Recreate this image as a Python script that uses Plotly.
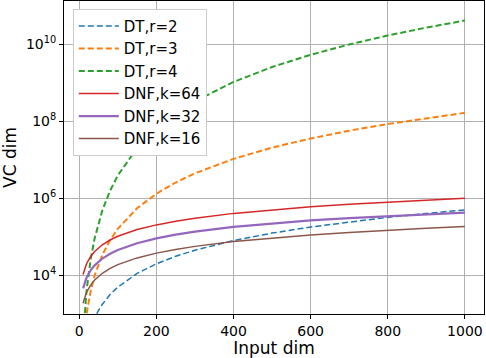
import plotly.graph_objects as go

# input dimension
n = [10, 12, 14, 16, 18, 20, 25, 30, 40, 50, 60, 80, 100, 150, 200, 250,
     300, 400, 500, 600, 700, 800, 900, 1000]

# decision trees, depth r
dt_r2 = [45, 66, 91, 120, 153, 190, 300, 435, 780, 1225, 1770, 3160, 4950,
         11175, 19900, 31125, 44850, 79800, 124750, 179700, 244650, 319600,
         404550, 499500]
dt_r3 = [120, 220, 364, 560, 816, 1140, 2300, 4060, 9880, 19600, 34220,
         82160, 161700, 551300, 1313400, 2573000, 4455100, 10586800,
         20708500, 35820200, 56921900, 85013600, 121095300, 166167000]
dt_r4 = [210, 495, 1001, 1820, 3060, 4845, 12650, 27405, 91390, 230300,
         487635, 1581580, 3921225, 20260275, 64684950, 158882750, 330791175,
         1050739900, 2573031125, 5346164850, 9918641075, 16938959800,
         27155621025, 41417124750]

# DNF with k terms
dnf_k64 = [10500, 12600, 14600, 16700, 18800, 20900, 26000, 31200, 41500,
           51800, 62100, 82500, 103000, 154000, 204000, 255000, 305000,
           406000, 506000, 606000, 706000, 806000, 905000, 1005000]
dnf_k32 = [4600, 5500, 6400, 7300, 8200, 9100, 11400, 13700, 18200, 22800,
           27300, 36400, 45500, 68200, 91000, 113500, 136000, 181000, 224000,
           268000, 305000, 345000, 385000, 425000]
dnf_k16 = [1880, 2260, 2640, 3020, 3400, 3780, 4720, 5660, 7550, 9440, 11300,
           15100, 18900, 28300, 37700, 47000, 56400, 75000, 93600, 112000,
           130000, 148500, 166500, 184000]

y_ticks = [1e4, 1e6, 1e8, 1e10]
y_ticktext = ["10<sup>4</sup>", "10<sup>6</sup>", "10<sup>8</sup>", "10<sup>10</sup>"]
x_ticks = [0, 200, 400, 600, 800, 1000]

series = [
    ("DT,r=2", dt_r2, "#1f77b4", 1.5, "6px,3px"),
    ("DT,r=3", dt_r3, "#ff7f0e", 2, "6px,3px"),
    ("DT,r=4", dt_r4, "#2ca02c", 2, "6px,3px"),
    ("DNF,k=64", dnf_k64, "#d62728", 1.5, "solid"),
    ("DNF,k=32", dnf_k32, "#9467bd", 2.2, "solid"),
    ("DNF,k=16", dnf_k16, "#8c564b", 1.5, "solid"),
]

fig = go.Figure()
for name, vals, col, w, dash in series:
    fig.add_trace(go.Scatter(x=n, y=vals, mode="lines", name=name,
                             line=dict(color=col, width=w, dash=dash)))

axis_common = dict(
    showline=True, mirror=True, linecolor="black", linewidth=1,
    ticks="outside", ticklen=4, tickcolor="black",
    showgrid=True, gridcolor="#b0b0b0", gridwidth=1, zeroline=False,
    tickfont=dict(size=14, color="black"),
)

fig.update_layout(
    width=486, height=358,
    margin=dict(l=64, r=2, t=1, b=44),
    paper_bgcolor="white", plot_bgcolor="white",
    font=dict(family="DejaVu Sans", size=14, color="black"),
    xaxis=dict(range=[-39.5, 1049.5], tickvals=x_ticks,
               title=dict(text="Input dim", standoff=4), **axis_common),
    yaxis=dict(type="log", range=[2.995, 11.125], tickvals=y_ticks,
               ticktext=y_ticktext,
               title=dict(text="VC dim", standoff=4), **axis_common),
    legend=dict(x=0.021, y=0.975, xanchor="left", yanchor="top",
                bgcolor="white", bordercolor="#cccccc", borderwidth=1,
                font=dict(size=15), itemwidth=40),
)

# drop the default page margin so the figure sits at the window corner
fig.write_html("out.html", config={"displayModeBar": False},
               post_script="document.body.style.margin='0';")
